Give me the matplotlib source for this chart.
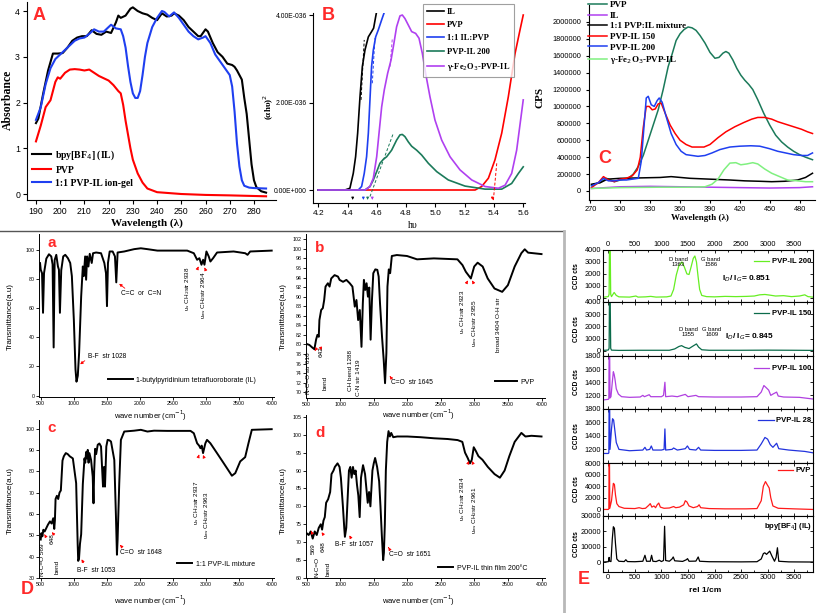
import matplotlib
matplotlib.use("Agg")
import matplotlib.pyplot as plt
from matplotlib.lines import Line2D
from matplotlib.patches import FancyArrowPatch
from matplotlib.ticker import MultipleLocator

W, H = 817, 613
plt.rcParams['font.family'] = ['Liberation Sans', 'DejaVu Sans']
plt.rcParams['axes.linewidth'] = 0.8
SERIF = ['Liberation Serif', 'DejaVu Serif']
RED = '#ff2a2a'

# ================= DATA =================
# --- Panel A: UV-Vis absorbance ---
a_wl_il = [190, 191, 193, 195, 197, 199, 201, 203, 205, 207, 209, 211, 213, 215, 217, 219, 221, 223, 224, 225,
           227, 229, 230, 232, 234, 236, 238, 240, 242, 244, 246, 247, 249, 251, 253, 255, 257, 258, 260, 261,
           263, 265, 267, 269, 271, 272, 273, 275, 276, 277, 278, 279, 280, 281, 283, 285]
a_abs_il = [1.55, 1.65, 2.2, 2.7, 3.07, 3.07, 3.08, 3.2, 3.35, 3.42, 3.45, 3.45, 3.58, 3.5, 3.48, 3.55, 3.52, 3.75, 3.9, 3.85,
            3.9, 4.05, 4.08, 4.0, 3.95, 3.92, 3.85, 3.8, 3.95, 3.88, 3.9, 3.95, 3.9, 3.8, 3.65, 3.55, 3.45, 3.45, 3.6, 3.55,
            3.3, 3.1, 3.0, 2.85, 2.82, 2.78, 2.7, 2.5, 2.1, 1.75, 1.2, 0.65, 0.3, 0.15, 0.06, 0.03]
a_wl_pvp = [190, 192, 194, 196, 198, 199, 200, 202, 204, 206, 208, 210, 212, 214, 216, 218, 220, 222, 224, 225,
            226, 227, 228, 229, 230, 232, 234, 236, 240, 250, 260, 270, 285]
a_abs_pvp = [1.15, 1.5, 1.9, 2.05, 2.45, 2.55, 2.52, 2.65, 2.72, 2.73, 2.72, 2.7, 2.72, 2.65, 2.58, 2.53, 2.48, 2.38, 2.25, 2.2,
             1.95, 1.6, 1.3, 1.0, 0.75, 0.45, 0.25, 0.12, 0.04, 0.0, -0.02, -0.03, -0.05]
a_wl_gel = [190, 192, 194, 196, 198, 200, 202, 204, 206, 208, 210, 212, 214, 216, 218, 220, 221, 223, 225, 226,
            227, 228, 229, 230, 231, 232, 233, 234, 235, 236, 238, 240, 242, 243, 245, 247, 249, 251, 253, 255,
            257, 259, 260, 262, 264, 266, 268, 270, 271, 272, 273, 274, 275, 276, 278, 280, 285]
a_abs_gel = [1.62, 1.9, 2.4, 2.75, 2.95, 3.05, 3.15, 3.25, 3.35, 3.4, 3.42, 3.5, 3.6, 3.55, 3.55, 3.65, 3.7, 3.62, 3.6, 3.45,
             3.2, 2.8, 2.45, 2.2, 2.1, 2.1, 2.25, 2.6, 3.0, 3.3, 3.65, 3.85, 4.0, 3.98, 3.88, 3.97, 3.85, 3.7, 3.55, 3.45,
             3.38, 3.42, 3.45, 3.3, 3.05, 2.9, 2.75, 2.6, 2.35, 1.8, 1.1, 0.6, 0.3, 0.18, 0.14, 0.13, 0.12]
a_xticks = [190, 200, 210, 220, 230, 240, 250, 260, 270, 280]
a_yticks = [0, 1, 2, 3, 4]
a_labels = ['bpy[BF$_4$] (IL)', 'PVP', '1:1 PVP-IL ion-gel']

# --- Panel B: Tauc plot (units of 1e-36) ---
b_hv_il = [4.2, 4.382, 4.416, 4.439, 4.455, 4.469, 4.485, 4.501, 4.519, 4.542, 4.564, 4.578, 4.592, 4.605]
b_y_il = [0, 0, 0.04, 0.38, 0.76, 1.3, 2.13, 2.82, 3.2, 3.5, 3.62, 3.7, 3.96, 4.19]
b_hv_pvp = [4.2, 5.271, 5.316, 5.362, 5.407, 5.453, 5.498, 5.544, 5.578, 5.6]
b_y_pvp = [0, 0, 0.08, 0.27, 0.69, 1.3, 2.13, 3.12, 3.66, 4.0]
b_hv_mix = [4.2, 4.473, 4.496, 4.514, 4.530, 4.542, 4.553, 4.564, 4.576, 4.592, 4.610, 4.633, 4.656]
b_y_mix = [0, 0, 0.08, 0.38, 0.76, 1.3, 2.06, 2.82, 3.2, 3.5, 3.66, 3.89, 4.11]
b_hv_200 = [4.2, 4.519, 4.553, 4.576, 4.599, 4.621, 4.644, 4.667, 4.701, 4.735, 4.758, 4.774, 4.792, 4.815, 4.838,
            4.872, 4.906, 4.952, 5.009, 5.088, 5.202, 5.339, 5.453, 5.521, 5.567, 5.6]
b_y_200 = [0, 0, 0.08, 0.23, 0.42, 0.61, 0.7, 0.76, 0.91, 1.14, 1.26, 1.27, 1.22, 1.1, 1.0,
           0.91, 0.8, 0.61, 0.42, 0.23, 0.09, 0.02, 0.02, 0.15, 0.38, 0.53]
b_hv_fe = [4.2, 4.519, 4.553, 4.576, 4.599, 4.615, 4.633, 4.651, 4.674, 4.697, 4.713, 4.735, 4.758, 4.774, 4.792,
           4.815, 4.838, 4.865, 4.888, 4.911, 4.933, 4.963, 4.997, 5.043, 5.1, 5.168, 5.248, 5.339, 5.43, 5.476,
           5.521, 5.555, 5.6]
b_y_fe = [0, 0, 0.08, 0.27, 0.76, 1.3, 1.9, 2.29, 2.67, 2.97, 3.28, 3.73, 3.98, 4.0, 3.92,
          3.77, 3.62, 3.58, 3.47, 3.12, 2.67, 2.13, 1.6, 1.14, 0.76, 0.46, 0.23, 0.08, 0.04, 0.11,
          0.38, 0.91, 2.06]
b_tan_x = [[4.492, 4.514], [4.569, 4.587], [4.69, 4.706], [4.553, 4.713], [5.396, 5.419]]
b_tan_y = [[2.06, 3.43], [2.44, 3.47], [2.82, 3.47], [-0.15, 1.3], [-0.23, 0.61]]
b_onsets = [4.435, 4.508, 4.537, 4.569, 5.389]
b_xticks = [4.2, 4.4, 4.6, 4.8, 5.0, 5.2, 5.4, 5.6]
b_yticks = [0, 2, 4]
b_yticklabels = ['0.00E+000', '2.00E-036', '4.00E-036']
b_labels = ['IL', 'PVP', '1:1 IL:PVP', 'PVP-IL 200', 'γ-Fe$_2$O$_3$-PVP-IL']

# --- Panel C: photoluminescence (CPS) ---
c_wl_pvp = [271, 280, 286, 294, 300, 308, 313, 318, 323, 328, 333, 338, 343, 348, 352, 356, 360, 364, 368, 372,
            376, 380, 385, 390, 395, 399, 403, 406, 409, 413, 417, 421, 425, 429, 433, 438, 444, 450, 456, 462,
            468, 474, 480, 486, 493]
c_cps_pvp = [70000, 100000, 150000, 110000, 130000, 150000, 200000, 290000, 420000, 600000, 780000, 960000, 1200000,
             1470000, 1620000, 1780000, 1860000, 1910000, 1940000, 1930000, 1900000, 1840000, 1750000, 1640000,
             1570000, 1580000, 1630000, 1650000, 1630000, 1550000, 1450000, 1370000, 1310000, 1260000, 1200000,
             1080000, 920000, 780000, 660000, 580000, 520000, 470000, 430000, 400000, 370000]
c_wl_il = [271, 300, 330, 360, 390, 420, 450, 480, 493]
c_cps_il = [30000, 50000, 55000, 50000, 45000, 40000, 35000, 40000, 50000]
c_wl_mix = [271, 280, 287, 300, 320, 340, 351, 370, 390, 410, 425, 440, 452, 465, 478, 486, 493]
c_cps_mix = [80000, 100000, 140000, 150000, 155000, 160000, 170000, 150000, 140000, 130000, 120000, 115000,
             110000, 115000, 130000, 160000, 210000]
c_wl_150 = [271, 278, 283, 288, 294, 300, 306, 312, 317, 320, 323, 326, 329, 332, 335, 338, 341, 345, 350, 355,
            360, 366, 372, 378, 384, 390, 398, 406, 415, 424, 432, 438, 445, 452, 458, 466, 474, 482, 488, 493]
c_cps_150 = [40000, 100000, 170000, 130000, 110000, 140000, 150000, 180000, 250000, 400000, 750000, 1000000,
             1000000, 960000, 970000, 1030000, 1040000, 920000, 780000, 680000, 600000, 550000, 520000, 520000,
             520000, 550000, 630000, 700000, 760000, 810000, 850000, 870000, 870000, 850000, 820000, 790000,
             760000, 730000, 700000, 680000]
c_wl_200 = [271, 278, 283, 288, 294, 300, 306, 312, 318, 321, 324, 326, 328, 331, 334, 337, 339, 342, 346, 351,
            356, 361, 366, 372, 378, 385, 392, 400, 410, 420, 431, 440, 450, 458, 466, 474, 482, 488, 493]
c_cps_200 = [60000, 100000, 150000, 120000, 120000, 130000, 130000, 140000, 150000, 350000, 800000, 1100000,
             1120000, 1020000, 1000000, 1070000, 1100000, 1050000, 880000, 680000, 550000, 470000, 430000, 420000,
             410000, 420000, 450000, 490000, 520000, 530000, 535000, 530000, 500000, 470000, 450000, 430000,
             420000, 420000, 450000]
c_wl_fe = [271, 300, 340, 370, 385, 392, 398, 404, 410, 416, 421, 427, 433, 438, 445, 452, 460, 468, 478, 486, 493]
c_cps_fe = [30000, 40000, 45000, 45000, 50000, 80000, 140000, 250000, 330000, 335000, 310000, 320000, 335000,
            320000, 260000, 210000, 170000, 130000, 120000, 110000, 110000]
c_xticks = [270, 300, 330, 360, 390, 420, 450, 480]
c_yticks = [0, 200000, 400000, 600000, 800000, 1000000, 1200000, 1400000, 1600000, 1800000, 2000000]
c_labels = ['PVP', 'IL', '1:1 PVP:IL mixture', 'PVP-IL 150', 'PVP-IL 200', 'γ-Fe$_2$O$_3$-PVP-IL']

# --- Panel D: FTIR spectra ---
ir_il_wn = [490, 500, 520, 535, 550, 585, 625, 660, 680, 696, 711, 736, 761, 776, 791, 811, 841, 872, 912, 947,
            972, 1002, 1027, 1042, 1062, 1082, 1113, 1138, 1153, 1173, 1188, 1203, 1223, 1243, 1273, 1293, 1339,
            1414, 1464, 1489, 1504, 1519, 1545, 1590, 1625, 1645, 1665, 1766, 1916, 2017, 2117, 2268, 2720, 2820,
            2870, 2905, 2936, 2961, 2981, 3011, 3046, 3071, 3112, 3172, 3423, 3599, 3634, 3674, 4000]
ir_il_t = [90.9, 86.4, 84, 56.8, 84, 94, 97, 95.5, 90, 33, 93, 96.6, 88.6, 86.4, 56.8, 86, 95.5, 96.6, 94.3, 91,
           82, 52, 18, 9.5, 13.6, 29.5, 68, 88.6, 82, 95.5, 79.5, 95.5, 88.6, 97.3, 91, 97.7, 98.2,
           97.7, 91, 84, 61.4, 91, 98.9, 98.9, 95.5, 77.7, 98.2, 98.9, 100.5, 101.1, 100.5, 99.5, 99.5, 97.7,
           93.2, 94.3, 89.8, 93.2, 89.8, 98.9, 95.5, 92, 94.3, 98.2, 98.9, 97.7, 96.6, 98.9, 99.5]

ir_pvp_wn = [500, 540, 580, 615, 640, 660, 680, 690, 716, 741, 761, 781, 816, 841, 866, 916, 966, 991, 1042, 1092,
             1142, 1182, 1217, 1242, 1267, 1292, 1317, 1337, 1353, 1373, 1393, 1413, 1433, 1453, 1473, 1493, 1523,
             1553, 1573, 1593, 1623, 1648, 1668, 1688, 1704, 1724, 1744, 1769, 1844, 1995, 2145, 2396, 2747, 2822,
             2872, 2947, 2997, 3048, 3123, 3198, 3299, 3414, 3499, 3600, 3700, 3750, 3800, 4000]
ir_pvp_t = [80.1, 79.9, 79.4, 79, 81, 82, 81.6, 85.1, 87.2, 87.6, 89.3, 92.1, 92.8, 92.1, 93.8, 94.5, 94.2, 93.5, 93.1, 93.5,
            92.8, 92.1, 87.9, 89.3, 85.1, 87.2, 79.5, 88.6, 93.5, 91.4, 92.8, 90, 91.9, 81, 89.3, 94.9, 95.7,
            95.6, 94.2, 88.6, 81.6, 76.8, 71.9, 78.2, 92.1, 95.7, 94.9, 98.5, 98.7, 98.5, 97.8, 98, 97.8, 96.6,
            95.2, 93.8, 96.3, 97.1, 96.3, 93.8, 91.7, 91, 92.4, 96.3, 99.1, 99.9, 99.2, 98.9]

ir_mix_wn = [500, 510, 525, 540, 560, 585, 610, 640, 665, 690, 705, 715, 725, 745, 765, 785, 805, 830, 850, 880,
             910, 940, 987, 1037, 1060, 1068, 1080, 1095, 1113, 1138, 1163, 1175, 1188, 1200, 1213, 1225, 1238,
             1263, 1288, 1300, 1310, 1324, 1340, 1364, 1389, 1414, 1429, 1444, 1452, 1459, 1466, 1474, 1494, 1514,
             1540, 1565, 1615, 1640, 1655, 1665, 1690, 1715, 1766, 1916, 2017, 2117, 2217, 2418, 2770, 2820, 2870,
             2900, 2920, 2940, 2960, 2995, 3020, 3071, 3171, 3272, 3372, 3397, 3448, 3523, 3598, 3648, 3699, 4000]
ir_mix_t = [48, 51, 49.5, 52.6, 51.8, 53.4, 55, 56.5, 55.5, 58, 53, 57, 67, 68.5, 67, 70, 71, 85, 87, 88.5,
            88, 87, 86, 74.4, 46, 38, 39, 46, 50.5, 74, 86, 84, 89, 86, 90, 84, 88.5,
            85.3, 77.5, 65, 80, 90.5, 88, 92.4, 93, 91.6, 82.2, 72.8, 80, 82, 76, 72.8, 91.6, 94.7,
            94.5, 93.9, 85.3, 58.8, 40.9, 47.9, 74.4, 94.7, 98.6, 99, 99.4, 98.6, 99, 98.9, 98.9, 97.8, 93.1,
            92, 90.8, 92, 88.5, 93.1, 94.7, 93.1, 88.5, 83.8, 79.1, 77.9, 79.1, 84.6, 86.6, 93.1, 99.4, 99.7]

ir_film_wn = [500, 530, 560, 590, 620, 650, 680, 710, 730, 750, 770, 790, 820, 850, 870, 900, 920, 960, 990, 1010,
              1040, 1060, 1070, 1090, 1110, 1130, 1150, 1170, 1190, 1210, 1230, 1250, 1270, 1290, 1310, 1340, 1370,
              1390, 1410, 1430, 1450, 1480, 1500, 1520, 1550, 1580, 1600, 1620, 1640, 1651, 1665, 1680, 1700, 1720,
              1740, 1760, 1790, 1850, 2000, 2200, 2400, 2600, 2750, 2820, 2860, 2900, 2934, 2961, 2990, 3020, 3060,
              3120, 3200, 3300, 3380, 3450, 3520, 3600, 3700, 3760, 3850, 4000]
ir_film_t = [72.5, 72, 73, 71, 73, 72, 74, 75, 73.5, 76, 77, 81, 82, 84, 89, 90, 91, 92, 91, 88,
             80, 74, 71.5, 74, 82, 90, 91, 88, 91, 89, 90, 86, 83, 77, 88, 91.5, 89,
             85, 81, 84, 80, 90, 92, 93.5, 91, 87, 80, 72, 65, 67, 75, 90, 98, 101,
             99.5, 100.5, 99.3, 99.5, 99.5, 99.3, 99, 98.8, 98.5, 98, 95, 93.5, 92, 93, 96.5, 95.5, 94,
             93, 91, 89, 88, 90, 94, 98, 100.5, 99.5, 99.7, 99.5]
d_xticks = [500, 1000, 1500, 2000, 2500, 3000, 3500, 4000]

# --- Panel E: Raman spectra ---
e1_x = [-100, 0, 15, 22, 35, 45, 60, 110, 150, 200, 400, 520, 560, 700, 800, 900, 1100, 1180, 1230, 1280,
        1330, 1385, 1430, 1480, 1520, 1560, 1600, 1630, 1660, 1690, 1720, 1760, 1850, 2000, 2200, 2400, 2600,
        2750, 2850, 2950, 3050, 3150, 3300, 3450, 3600, 3700, 3760, 3850]
e1_y = [50, 100, 300, 4500, 4500, 300, 100, 450, 200, 80, 60, 150, 60, 80, 120, 60, 80, 150, 700, 1900,
        2700, 3000, 2600, 2000, 1950, 2600, 3300, 3500, 3000, 1800, 700, 200, 100, 80, 120, 100, 120,
        150, 250, 280, 220, 150, 180, 100, 150, 250, 100, 60]
e2_x = [-100, 0, 15, 22, 35, 45, 60, 200, 600, 1150, 1250, 1330, 1380, 1440, 1520, 1600, 1660, 1700, 1760,
        1900, 2500, 3000, 3500, 3850]
e2_y = [30, 60, 200, 4500, 4500, 200, 50, 30, 40, 40, 150, 350, 420, 280, 180, 400, 560, 300, 80,
        40, 40, 50, 40, 30]
e3_x = [-100, 0, 10, 15, 25, 32, 50, 75, 95, 110, 125, 150, 190, 250, 400, 600, 650, 680, 770, 800, 1000,
        1040, 1066, 1080, 1200, 1300, 1450, 1500, 1650, 1700, 2000, 2500, 2800, 2880, 2930, 2970, 3020, 3060,
        3100, 3170, 3200, 3300, 3600, 3800, 3850]
e3_y = [1130, 1140, 1150, 1900, 1900, 1160, 1180, 1400, 1560, 1520, 1450, 1300, 1220, 1180, 1170, 1175, 1200,
        1180, 1210, 1180, 1180, 1200, 1400, 1180, 1190, 1180, 1215, 1180, 1200, 1180, 1175, 1175, 1180, 1250,
        1350, 1320, 1280, 1200, 1220, 1250, 1190, 1175, 1170, 1150, 1145]
e4_x = [-100, 0, 10, 15, 25, 32, 60, 80, 100, 120, 150, 200, 400, 650, 690, 720, 780, 810, 840, 1000, 1050,
        1066, 1080, 1200, 1230, 1300, 1450, 1490, 1530, 1650, 1700, 1740, 2000, 2500, 2800, 2880, 2950, 3000,
        3050, 3100, 3170, 3210, 3400, 3700, 3850]
e4_y = [1140, 1140, 1150, 1900, 1900, 1200, 1500, 1650, 1630, 1500, 1300, 1200, 1180, 1190, 1230, 1190, 1200,
        1250, 1190, 1190, 1200, 1500, 1190, 1200, 1220, 1190, 1210, 1250, 1200, 1190, 1230, 1190, 1185, 1185,
        1190, 1280, 1375, 1350, 1270, 1230, 1290, 1210, 1190, 1170, 1150]
e5_x = [-100, 0, 10, 15, 22, 28, 60, 95, 115, 135, 160, 200, 300, 500, 580, 640, 700, 760, 790, 820, 860, 890,
        920, 950, 980, 1050, 1150, 1230, 1270, 1340, 1420, 1450, 1480, 1520, 1600, 1680, 1710, 1740, 1900,
        2200, 2600, 2800, 2880, 2920, 2960, 2990, 3030, 3060, 3100, 3200, 3500, 3850]
e5_y = [0, 0, 100, 8500, 8500, 200, 1500, 4500, 4300, 2500, 1000, 500, 200, 150, 300, 150, 200, 700, 1000, 400,
        600, 300, 800, 1100, 400, 200, 250, 500, 300, 400, 800, 1500, 1300, 600, 300, 500, 800, 300, 150,
        100, 100, 150, 1500, 4000, 4800, 4300, 3700, 2000, 600, 200, 100, 0]
e6_x = [-100, 0, 15, 25, 50, 75, 95, 115, 135, 160, 200, 300, 330, 360, 500, 650, 690, 720, 790, 815, 840, 900,
        960, 1000, 1040, 1060, 1080, 1150, 1200, 1223, 1250, 1400, 1470, 1492, 1520, 1650, 1693, 1720, 1900,
        2500, 2800, 2880, 2920, 2947, 2980, 3040, 3080, 3130, 3160, 3185, 3210, 3400, 3850]
e6_y = [0, 200, 3000, 500, 300, 15000, 23000, 22000, 12000, 2000, 500, 300, 1500, 300, 200, 500, 4400, 500, 500,
        4400, 500, 300, 1200, 300, 1000, 23300, 1000, 500, 2000, 3300, 800, 400, 1500, 2200, 500, 600, 3300,
        500, 200, 100, 200, 2000, 5500, 6000, 5000, 7100, 4000, 500, 3000, 9300, 500, 100, 0]
e_xticks = [0, 500, 1000, 1500, 2000, 2500, 3000, 3500]
e_labels = ['PVP-IL 200', 'PVP-IL 150', 'PVP-IL 100', 'PVP-IL 28', 'PVP', 'bpy[BF$_4$] (IL)']
e_ylims = [(-350, 4000), (-430, 4000), (1000, 1800), (1000, 1800), (-1130, 8000), (-6500, 30000)]
e_yticks = [[0, 1000, 2000, 3000, 4000], [0, 1000, 2000, 3000, 4000], [1200, 1400, 1600, 1800],
            [1200, 1400, 1600, 1800], [0, 2000, 4000, 6000, 8000], [0, 10000, 20000, 30000]]
e_colors = ['#66ee22', '#0b6b4a', '#b040e0', '#2233dd', '#ff1a1a', '#000000']

# ================= FIGURE =================
fig = plt.figure(figsize=(W / 100, H / 100), dpi=100)
fig.patch.set_facecolor('white')


def add_ax(l, t, r, b):
    return fig.add_axes([l / W, 1 - b / H, (r - l) / W, (b - t) / H])


def fp(x, y):
    return (x / W, 1 - y / H)


def ftext(x, y, s, **kw):
    return fig.text(x / W, 1 - y / H, s, **kw)


def rtext(x, ytop, s, size=4.6):
    ftext(x, ytop, s, rotation=90, ha='center', va='top', fontsize=size)


def rarrow(x0, y0, x1, y1):
    fig.add_artist(FancyArrowPatch(fp(x0, y0), fp(x1, y1), transform=fig.transFigure,
                                   arrowstyle='-|>', mutation_scale=4, color='red', lw=0.6))


def two_spines(ax):
    ax.spines['top'].set_visible(False)
    ax.spines['right'].set_visible(False)


# ---------- Panel A ----------
axA = add_ax(27, 2, 276, 200)
axA.plot(a_wl_il, a_abs_il, color='black', lw=1.5, label=a_labels[0])
axA.plot(a_wl_pvp, a_abs_pvp, color='#ff0000', lw=1.5, label=a_labels[1])
axA.plot(a_wl_gel, a_abs_gel, color='#1f3ff0', lw=1.5, label=a_labels[2])
axA.set_xlim(186.3, 289.1)
axA.set_ylim(-0.131, 4.197)
two_spines(axA)
axA.set_xticks(a_xticks)
axA.set_yticks(a_yticks)
axA.tick_params(labelsize=6.3, length=3, width=0.8, pad=2)
axA.legend(loc='upper left', bbox_to_anchor=fp(32, 148), bbox_transform=fig.transFigure, frameon=False,
           prop={'family': SERIF, 'weight': 'bold', 'size': 7}, handlelength=2.0, handletextpad=0.4,
           labelspacing=0.42, borderpad=0, borderaxespad=0)
ftext(8, 100, 'Absorbance', rotation=90, ha='center', va='center', family=SERIF, weight='bold', fontsize=8.5)
ftext(147, 223, 'Wavelength (λ)', ha='center', va='center', family=SERIF, weight='bold', fontsize=8)
ftext(33, 15, 'A', color=RED, weight='bold', fontsize=13, ha='left', va='center')

# ---------- Panel B ----------
axB = add_ax(313, 13, 525, 203)
axB.plot(b_hv_il, b_y_il, color='black', lw=1.2, label=b_labels[0])
axB.plot(b_hv_pvp, b_y_pvp, color='#ff0000', lw=1.2, label=b_labels[1])
axB.plot(b_hv_mix, b_y_mix, color='#1f3ff0', lw=1.2, label=b_labels[2])
axB.plot(b_hv_200, b_y_200, color='#1b7a5a', lw=1.2, label=b_labels[3])
axB.plot(b_hv_fe, b_y_fe, color='#b040f0', lw=1.2, label=b_labels[4])
tan_cols = ['black', '#1f3ff0', '#b040f0', '#1b7a5a', '#ff0000']
for tx, ty, col in zip(b_tan_x, b_tan_y, tan_cols):
    axB.plot(tx, ty, color=col, lw=0.7, ls=(0, (3, 2)))
for ox, col in zip(b_onsets, ['black', '#1f3ff0', '#1b7a5a', '#b040f0', '#ff0000']):
    axB.annotate('', xy=(ox, -0.29), xytext=(ox, -0.1),
                 arrowprops=dict(arrowstyle='-|>', color=col, lw=0.6, mutation_scale=3.5))
axB.set_xlim(4.164, 5.612)
axB.set_ylim(-0.297, 4.046)
two_spines(axB)
axB.set_xticks(b_xticks)
axB.set_yticks(b_yticks)
axB.set_yticklabels(b_yticklabels)
axB.tick_params(labelsize=4.9, length=3, width=0.8, pad=1.5)
axB.tick_params(axis='x', labelsize=6, pad=2)
lgB = axB.legend(loc='upper left', bbox_to_anchor=fp(423, 4), bbox_transform=fig.transFigure, frameon=True,
                 fancybox=False, prop={'family': SERIF, 'weight': 'bold', 'size': 6.1}, handlelength=2.0,
                 handletextpad=0.35, labelspacing=0.62, borderpad=0.45, borderaxespad=0)
lgB.get_frame().set_edgecolor('#888888')
lgB.get_frame().set_linewidth(0.8)
ftext(269, 107, '(αhυ)$^2$', rotation=90, ha='center', va='center', family=SERIF, weight='bold', fontsize=6.5)
ftext(413, 225, 'hυ', ha='center', va='center', family=SERIF, fontsize=7)
ftext(322, 15, 'B', color=RED, weight='bold', fontsize=13, ha='left', va='center')

# ---------- Panel C ----------
axC = add_ax(589, 5, 815, 200)
axC.plot(c_wl_pvp, c_cps_pvp, color='#1b7a5a', lw=1.1, label=c_labels[0])
axC.plot(c_wl_il, c_cps_il, color='#b040f0', lw=1.1, label=c_labels[1])
axC.plot(c_wl_mix, c_cps_mix, color='black', lw=1.1, label=c_labels[2])
axC.plot(c_wl_150, c_cps_150, color='#ff0000', lw=1.1, label=c_labels[3])
axC.plot(c_wl_200, c_cps_200, color='#1f3ff0', lw=1.1, label=c_labels[4])
axC.plot(c_wl_fe, c_cps_fe, color='#80f080', lw=1.1, label=c_labels[5])
axC.set_xlim(268.5, 495.5)
axC.set_ylim(-106500, 2200000)
two_spines(axC)
axC.set_xticks(c_xticks)
axC.set_yticks(c_yticks)
axC.set_yticklabels([str(v) for v in c_yticks])
axC.tick_params(labelsize=5.3, length=2.5, width=0.8, pad=1.5)
axC.tick_params(axis='y', pad=3)
axC.legend(loc='upper left', bbox_to_anchor=fp(588, 1), bbox_transform=fig.transFigure, frameon=False,
           prop={'family': SERIF, 'weight': 'bold', 'size': 6.5}, handlelength=2.1, handletextpad=0.3,
           labelspacing=0.25, borderpad=0, borderaxespad=0)
ftext(540, 97, 'CPS', rotation=90, ha='center', va='center', family=SERIF, weight='bold', fontsize=8)
ftext(700, 218, 'Wavelength (λ)', ha='center', va='center', family=SERIF, weight='bold', fontsize=6.5)
ftext(598, 158, 'C', color=RED, weight='bold', fontsize=13, ha='left', va='center')


# ---------- Panel D (FTIR) ----------
def ftir_axes(box, xlim, ylim, yticks):
    ax = add_ax(*box)
    ax.set_xlim(xlim)
    ax.set_ylim(ylim)
    ax.set_xticks(d_xticks)
    ax.set_yticks(yticks)
    ax.tick_params(labelsize=3.8, length=2, width=0.6, pad=1.2)
    two_spines(ax)
    for s in ('left', 'bottom'):
        ax.spines[s].set_linewidth(0.7)
    return ax


def d_legend(ax, x, y, hl):
    ax.legend(loc='center left', bbox_to_anchor=fp(x, y), bbox_transform=fig.transFigure, frameon=False,
              prop={'size': 5}, handlelength=hl, handletextpad=0.5, borderpad=0, borderaxespad=0)


LW_D = 1.4
# a
axa = ftir_axes((39, 234, 274, 397), (474, 4035), (-1, 110.9), [0, 20, 40, 60, 80, 100])
axa.plot(ir_il_wn, ir_il_t, color='black', lw=LW_D, label='1-butylpyridinium tetrafluoroborate (IL)')
d_legend(axa, 108, 380, 3.6)
# b
axb = ftir_axes((306, 234, 545, 398), (490, 4052), (68.8, 103.1), list(range(70, 103, 2)))
axb.plot(ir_pvp_wn, ir_pvp_t, color='black', lw=LW_D, label='PVP')
d_legend(axb, 495, 382, 3.2)
# c
axc = ftir_axes((39, 420, 274, 578), (474, 4035), (30, 104), [30, 40, 50, 60, 70, 80, 90, 100])
axc.plot(ir_mix_wn, ir_mix_t, color='black', lw=LW_D, label='1:1 PVP-IL mixture')
d_legend(axc, 177, 564, 2.2)
# d
axd = ftir_axes((306, 415, 545, 578), (490, 4052), (60, 105.5), [60, 65, 70, 75, 80, 85, 90, 95, 100, 105])
axd.plot(ir_film_wn, ir_film_t, color='black', lw=LW_D, label='PVP-IL thin film 200°C')
d_legend(axd, 438, 568, 2.2)

for (x, y) in [(150, 416), (418, 415), (150, 601), (418, 601)]:
    ftext(x, y, 'wave number (cm$^{-1}$)', ha='center', va='center', fontsize=5.5)
for (x, y) in [(10, 316), (283, 316), (10, 500), (283, 500)]:
    ftext(x, y, 'Transmittance(a.u)', rotation=90, ha='center', va='center', fontsize=5.8)

# annotations a
ftext(121, 294, 'C=C  or  C=N', ha='left', va='center', fontsize=4.8)
rarrow(127, 290, 117, 282)
ftext(88, 356, 'B-F  str 1028', ha='left', va='center', fontsize=4.8)
rarrow(87, 359, 78, 366)
rtext(188, 266, 'υ$_s$ CH$_2$str 2938')
rtext(204, 271, 'υ$_{as}$ CH$_2$str 2964')
rarrow(197, 270, 199.5, 264)
rarrow(206, 271, 203.5, 265)
ftext(52, 243, 'a', color=RED, weight='bold', fontsize=11, ha='center', va='center')

# annotations b
ftext(391, 383, 'C=O  str 1645', ha='left', va='center', fontsize=4.8)
rarrow(392, 379, 388, 374)
rtext(309, 352, 'N-C=O str 616')
rtext(321, 346, '642')
rtext(325, 376, 'bend')
rarrow(317, 348, 313, 353)
rarrow(320, 345, 322, 353)
rtext(350, 350, 'CH bend 1288')
rtext(358, 360, 'C-N str 1419')
rtext(463, 289, 'υ$_s$ CH$_2$str 2923')
rtext(475, 299, 'υ$_{as}$ CH$_2$str 2955')
rarrow(466, 284, 469, 278)
rarrow(474, 284, 471, 278)
rtext(498, 297, 'broad 3404 O-H str')
ftext(320, 248, 'b', color=RED, weight='bold', fontsize=11, ha='center', va='center')

# annotations c
ftext(120, 552, 'C=O  str 1648', ha='left', va='center', fontsize=4.8)
rarrow(123, 548, 118, 543)
ftext(77, 570, 'B-F  str 1053', ha='left', va='center', fontsize=4.8)
rarrow(85, 565, 80, 557)
rtext(43, 543, 'N-C=O 569')
rtext(52, 533, '648')
rtext(57, 560, 'bend')
rarrow(46, 537, 43, 532)
rarrow(56, 537, 50, 530)
rtext(197, 480, 'υ$_s$ CH$_2$str 2937')
rtext(207, 492, 'υ$_{as}$ CH$_2$str 2963')
rarrow(198, 458, 200, 452)
rarrow(205, 460, 203, 455)
ftext(52, 428, 'c', color=RED, weight='bold', fontsize=11, ha='center', va='center')
ftext(27, 590, 'D', color=RED, weight='bold', fontsize=13, ha='center', va='center')

# annotations d
ftext(335, 545, 'B-F  str 1057', ha='left', va='center', fontsize=4.8)
rarrow(352, 540, 348, 533)
ftext(389, 554, 'C=O  str 1651', ha='left', va='center', fontsize=4.8)
rarrow(390, 550, 387, 545)
rtext(313, 543, '569')
rtext(317, 557, 'N-C=O')
rtext(323, 541, '648')
rtext(328, 562, 'bend')
rarrow(313, 535, 311, 531)
rarrow(325, 537, 320, 530)
rtext(463, 476, 'υ$_s$ CH$_2$str 2934')
rtext(475, 486, 'υ$_{as}$ CH$_2$str 2961')
rarrow(467, 466, 469, 461)
rarrow(474, 466, 472, 461)
ftext(320, 433, 'd', color=RED, weight='bold', fontsize=11, ha='center', va='center')

# separator lines
fig.add_artist(Line2D([0, 564 / W], [1 - 231 / H, 1 - 231 / H], transform=fig.transFigure, color='#555555', lw=1.0))
fig.add_artist(Line2D([564 / W, 564 / W], [1 - 231 / H, 0], transform=fig.transFigure, color='#b8b8b8', lw=2.0))

# ---------- Panel E (Raman) ----------
e_tops = [250, 302, 356, 408.5, 463, 516, 572]
e_x = [e1_x, e2_x, e3_x, e4_x, e5_x, e6_x]
e_y = [e1_y, e2_y, e3_y, e4_y, e5_y, e6_y]
e_leg_pos = [(811, 258), (811, 310), (811, 365), (811, 417), (811, 467)]
for i in range(6):
    ax = add_ax(603, e_tops[i], 813, e_tops[i + 1])
    ax.plot(e_x[i], e_y[i], color=e_colors[i], lw=0.9, label=e_labels[i])
    ax.set_xlim(-100, 3855)
    ax.set_ylim(e_ylims[i])
    ax.set_xticks(e_xticks)
    ax.xaxis.set_minor_locator(MultipleLocator(250))
    ax.set_yticks(e_yticks[i])
    ax.tick_params(which='both', direction='in', top=True, right=True, labelsize=5.3, width=0.6, pad=1.5,
                   labelbottom=(i == 5), labeltop=(i == 0))
    ax.tick_params(which='major', length=2.5)
    ax.tick_params(which='minor', length=1.3)
    for s in ax.spines.values():
        s.set_linewidth(0.8)
    if i < 5:
        ax.legend(loc='upper right', bbox_to_anchor=fp(*e_leg_pos[i]), bbox_transform=fig.transFigure,
                  frameon=False, prop={'weight': 'bold', 'size': 5.5}, handlelength=2.0, handletextpad=0.3,
                  borderpad=0, borderaxespad=0)
    ftext(576, (e_tops[i] + e_tops[i + 1]) / 2, 'CCD cts', rotation=90, ha='center', va='center',
          weight='bold', fontsize=4.8)
ftext(812, 527, e_labels[5], ha='right', va='center', weight='bold', fontsize=5.5)
ftext(678, 262, 'D band\n1363', ha='center', va='center', fontsize=4.2, linespacing=1.1)
ftext(711, 262, 'G band\n1586', ha='center', va='center', fontsize=4.2, linespacing=1.1)
ftext(722, 279, 'I$_D$/ I$_G$= 0.851', ha='left', va='center', weight='bold', fontsize=6)
ftext(688, 332, 'D band\n1355', ha='center', va='center', fontsize=4.2, linespacing=1.1)
ftext(712, 332, 'G band\n1609', ha='center', va='center', fontsize=4.2, linespacing=1.1)
ftext(725, 337, 'I$_D$/ I$_G$= 0.845', ha='left', va='center', weight='bold', fontsize=6)
ftext(705, 590, 'rel 1/cm', ha='center', va='center', weight='bold', fontsize=6)
ftext(584, 579, 'E', color=RED, weight='bold', fontsize=13, ha='center', va='center')

fig.savefig('out.png', dpi=100)
